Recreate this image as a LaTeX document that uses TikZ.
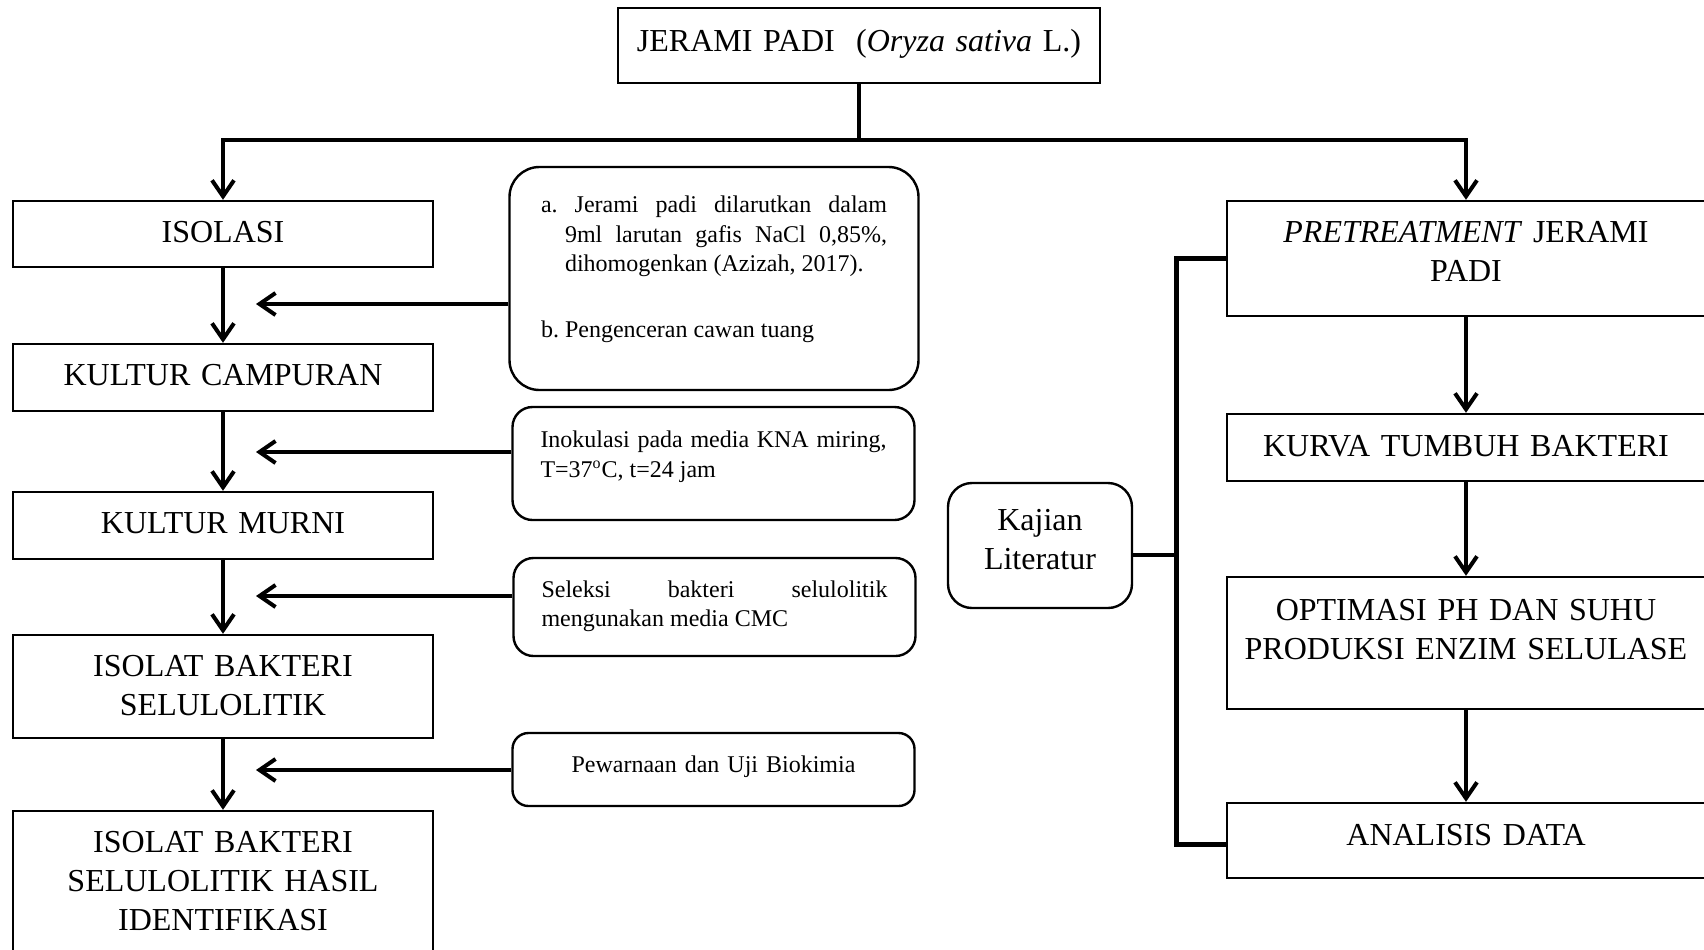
\documentclass[tikz,border=0pt]{standalone}
\usepackage{fontspec}
\setmainfont{Liberation Serif}
\usetikzlibrary{positioning,arrows.meta}

\begin{document}
\begin{tikzpicture}[
	box/.style={draw, line width=1.2pt, inner xsep=3pt, inner ysep=2pt, align=center, font=\fontsize{16}{19.5}\selectfont},
	leftbox/.style={box, text width=204pt, minimum height=33pt},
	rightbox/.style={box, text width=233pt, minimum height=33pt},
	note/.style={draw, line width=1.2pt, rounded corners=10pt, text width=173pt, inner xsep=14pt, align=justify, font=\fontsize{12}{14.6}\selectfont},
	conn/.style={line width=2pt},
	arr/.style={line width=2pt, -{Straight Barb[length=8pt,width=11pt]}},
	bracket/.style={line width=2.4pt}
]
	\useasboundingbox (0,0) rectangle (852pt,-474.5pt);
	% judul
	\node [box, text width=235pt, minimum height=37.5pt] (padi) at (429.5pt,-22.75pt) {JERAMI PADI~~(\textit{Oryza sativa} L.)\par\kern2pt};
	% kolom kiri
	\node [leftbox] (isolasi) at (111.5pt,-117pt) {ISOLASI\par\kern2pt};
	\node [leftbox, minimum height=33.5pt, below=37.3pt of isolasi] (campuran) {KULTUR CAMPURAN\par\kern2pt};
	\node [leftbox, minimum height=33.5pt, below=39.3pt of campuran] (murni) {KULTUR MURNI\par\kern2pt};
	\node [leftbox, minimum height=51.5pt, below=36.8pt of murni] (isolat) {ISOLAT BAKTERI\\SELULOLITIK\par\kern1pt};
	\node [leftbox, minimum height=71pt, below=35.3pt of isolat] (hasil) {ISOLAT BAKTERI\\SELULOLITIK HASIL\\IDENTIFIKASI\par\kern1pt};
	% keterangan
	\node [note, rounded corners=15pt, inner xsep=15.75pt, minimum height=111.5pt] (cara) at (357pt,-139.25pt) {{\hangindent=12pt\hangafter=1 a.\ Jerami padi dilarutkan dalam\linebreak 9ml larutan gafis NaCl 0,85\%,\linebreak dihomogenkan (Azizah, 2017).\par}\vspace{18.5pt}b.\ Pengenceran cawan tuang\par\kern9pt};
	\node [note, minimum height=56.5pt] (inokulasi) at (356.75pt,-231.75pt) {Inokulasi pada media KNA miring,\linebreak T=37\textsuperscript{o}C, t=24 jam\par\kern6.7pt};
	\node [note, minimum height=49pt] (seleksi) at (357.25pt,-303.5pt) {Seleksi bakteri selulolitik\linebreak mengunakan media CMC\par\kern0.7pt};
	\node [note, align=center, rounded corners=8pt, minimum height=36.5pt] (pewarnaan) at (356.75pt,-384.75pt) {Pewarnaan dan Uji Biokimia\par\kern3.2pt};
	% kolom kanan
	\node [rightbox, minimum height=57.5pt] (pretreat) at (733pt,-129.25pt) {\textit{PRETREATMENT} JERAMI\\PADI\par\kern7.5pt};
	\node [rightbox, minimum height=33.5pt, below=47.8pt of pretreat] (kurva) {KURVA TUMBUH BAKTERI\par\kern1pt};
	\node [rightbox, minimum height=66pt, below=46.8pt of kurva] (optimasi) {OPTIMASI PH DAN SUHU\\PRODUKSI ENZIM SELULASE\par\kern13.5pt};
	\node [rightbox, minimum height=37.5pt, below=45.8pt of optimasi] (analisis) {ANALISIS DATA\par\kern5.5pt};
	\node [box, rounded corners=12pt, text width=86pt, minimum height=62.5pt] (kajian) at (520pt,-272.75pt) {Kajian\\Literatur\par\kern6pt};
	% panah
	\draw [conn] (padi.south) -- ++(0,-28pt) coordinate (cabang);
	\draw [arr] (cabang) -| (isolasi.north);
	\draw [arr] (cabang) -| (pretreat.north);
	\draw [arr] (isolasi) -- (campuran);
	\draw [arr] (campuran) -- (murni);
	\draw [arr] (murni) -- (isolat);
	\draw [arr] (isolat) -- (hasil);
	\draw [arr] (pretreat) -- (kurva);
	\draw [arr] (kurva) -- (optimasi);
	\draw [arr] (optimasi) -- (analisis);
	\coordinate (tcara) at (128pt,-152pt);
	\coordinate (tinokulasi) at (128pt,-226pt);
	\coordinate (tseleksi) at (128pt,-298pt);
	\coordinate (tpewarnaan) at (128pt,-385pt);
	\draw [arr] (cara.west |- tcara) -- (tcara);
	\draw [arr] (inokulasi.west |- tinokulasi) -- (tinokulasi);
	\draw [arr] (seleksi.west |- tseleksi) -- (tseleksi);
	\draw [arr] (pewarnaan.west |- tpewarnaan) -- (tpewarnaan);
	% kajian literatur
	\draw [bracket] (pretreat.west) -- ++(-24.5pt,0) coordinate (siku) |- ([yshift=-2pt]analisis.west);
	\draw [bracket] ([yshift=-4.75pt]kajian.east) -- ([yshift=-4.75pt]kajian.east -| siku);
\end{tikzpicture}
\end{document}
